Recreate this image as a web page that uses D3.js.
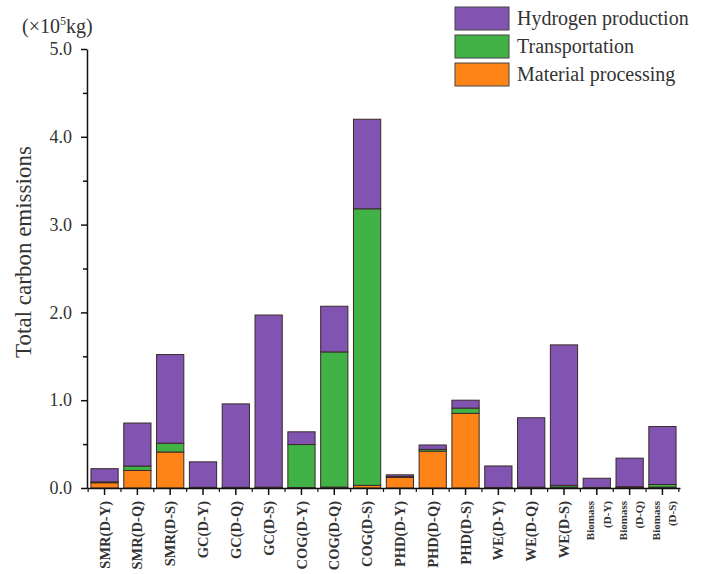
<!DOCTYPE html>
<html>
<head>
<meta charset="utf-8">
<script src="https://cdn.jsdelivr.net/npm/d3@7"></script>
<style>
  body { margin: 0; background: #fff; }
  text { font-family: "Liberation Serif", "Times New Roman", serif; fill: #333; }
</style>
</head>
<body>
<svg width="702" height="574"></svg>
<script>
// categories and series values (x10^5 kg)
var categories = ["SMR(D-Y)", "SMR(D-Q)", "SMR(D-S)", "GC(D-Y)", "GC(D-Q)", "GC(D-S)",
                  "COG(D-Y)", "COG(D-Q)", "COG(D-S)", "PHD(D-Y)", "PHD(D-Q)", "PHD(D-S)",
                  "WE(D-Y)", "WE(D-Q)", "WE(D-S)", "Biomass(D-Y)", "Biomass(D-Q)", "Biomass(D-S)"];
var material  = [0.06, 0.20, 0.41, 0.005, 0.005, 0.005, 0.005, 0.01, 0.03, 0.12, 0.42, 0.85, 0.003, 0.005, 0.01, 0.003, 0.005, 0.01];
var transport = [0.01, 0.05, 0.10, 0.003, 0.003, 0.005, 0.49, 1.54, 3.15, 0.01, 0.02, 0.06, 0.003, 0.005, 0.02, 0.003, 0.01, 0.03];
var hydrogen  = [0.15, 0.49, 1.01, 0.29, 0.95, 1.96, 0.145, 0.52, 1.02, 0.02, 0.05, 0.09, 0.245, 0.79, 1.60, 0.105, 0.325, 0.66];
var seriesNames = ["Material processing", "Transportation", "Hydrogen production"];
var colors = ["#ff8418", "#41b246", "#8054b0"];
var yTicks = [0, 1, 2, 3, 4, 5];
var yMinorTicks = [0.5, 1.5, 2.5, 3.5, 4.5];

var rows = categories.map(function (c, i) {
    return {cat: c, m: material[i], t: transport[i], h: hydrogen[i]};
});

var svg = d3.select("svg");

var x = d3.scaleBand()
    .domain(categories)
    .range([87, 680])
    .paddingInner(0.17)
    .paddingOuter(0.12);

var y = d3.scaleLinear()
    .domain([0, 5])
    .range([488, 49]);

// stacked bars
var stack = d3.stack().keys(["m", "t", "h"]);
var layers = stack(rows);

svg.selectAll("g.layer")
    .data(layers)
    .enter().append("g")
    .attr("class", "layer")
    .attr("fill", function (d, i) { return colors[i]; })
    .selectAll("rect")
    .data(function (d) { return d; })
    .enter().append("rect")
    .attr("x", function (d) { return x(d.data.cat); })
    .attr("y", function (d) { return y(d[1]); })
    .attr("width", x.bandwidth())
    .attr("height", function (d) { return y(d[0]) - y(d[1]); })
    .attr("stroke", "#3a2a2a")
    .attr("stroke-width", 1);

// y axis
var yAxis = d3.axisLeft(y)
    .tickValues(yTicks)
    .tickFormat(d3.format(".1f"))
    .tickSize(6)
    .tickSizeOuter(0)
    .tickPadding(9);

var gy = svg.append("g")
    .attr("transform", "translate(87,0)")
    .call(yAxis);
gy.selectAll("text").style("font-size", "18px").attr("fill", "#444");
gy.selectAll("line, path").attr("stroke", "#111").attr("stroke-width", 1.5);

svg.append("g")
    .attr("transform", "translate(87,0)")
    .call(d3.axisLeft(y).tickValues(yMinorTicks).tickFormat("").tickSize(4).tickSizeOuter(0))
    .call(function (g) { g.select(".domain").remove(); })
    .selectAll("line").attr("stroke", "#111").attr("stroke-width", 1.5);

// x axis
var gx = svg.append("g")
    .attr("transform", "translate(0,488)")
    .call(d3.axisBottom(x).tickFormat("").tickSize(7).tickSizeOuter(0));
gx.selectAll("line, path").attr("stroke", "#111").attr("stroke-width", 1.5);

// minor ticks between bars
var gap = (x.step() - x.bandwidth()) / 2;
var bounds = categories.map(function (c) { return x(c) - gap; })
    .concat([x(categories[categories.length - 1]) + x.bandwidth() + gap]);
svg.append("g").selectAll("line")
    .data(bounds)
    .enter().append("line")
    .attr("x1", function (d) { return d; })
    .attr("x2", function (d) { return d; })
    .attr("y1", 488)
    .attr("y2", 492)
    .attr("stroke", "#111")
    .attr("stroke-width", 1.2);

// x labels (rotated)
var labels = svg.append("g").selectAll("text")
    .data(categories)
    .enter().append("text")
    .attr("transform", function (d) {
        return "translate(" + (x(d) + x.bandwidth() / 2) + ",501) rotate(-90)";
    })
    .attr("text-anchor", "end")
    .style("font-weight", "bold")
    .attr("fill", "#333");

labels.each(function (d) {
    var t = d3.select(this);
    if (d.indexOf("Biomass") === 0) {
        t.style("font-size", "11px");
        t.append("tspan").attr("x", 0).attr("dy", "-0.25em").text("Biomass");
        t.append("tspan").attr("x", 0).attr("dy", "1.5em").text(d.slice(7));
    } else {
        t.style("font-size", "14.5px").attr("dy", "0.35em").text(d);
    }
});

// y title + unit
svg.append("text")
    .attr("transform", "translate(31,252) rotate(-90)")
    .attr("text-anchor", "middle")
    .style("font-size", "23px")
    .attr("fill", "#444")
    .text("Total carbon emissions");

var unit = svg.append("text")
    .attr("x", 22)
    .attr("y", 33)
    .style("font-size", "20px")
    .attr("fill", "#333");
unit.append("tspan").text("(×10");
unit.append("tspan").attr("dy", "-8").style("font-size", "12px").text("5");
unit.append("tspan").attr("dy", "8").text("kg)");

// legend
var legendOrder = [2, 1, 0];
var leg = svg.append("g").selectAll("g")
    .data(legendOrder)
    .enter().append("g")
    .attr("transform", function (d, i) { return "translate(455," + (7 + i * 28) + ")"; });
leg.append("rect")
    .attr("width", 54)
    .attr("height", 23)
    .attr("fill", function (d) { return colors[d]; })
    .attr("stroke", "#444")
    .attr("stroke-width", 1);
leg.append("text")
    .attr("x", 62)
    .attr("y", 18)
    .style("font-size", "20px")
    .attr("fill", "#333")
    .text(function (d) { return seriesNames[d]; });
</script>
</body>
</html>
